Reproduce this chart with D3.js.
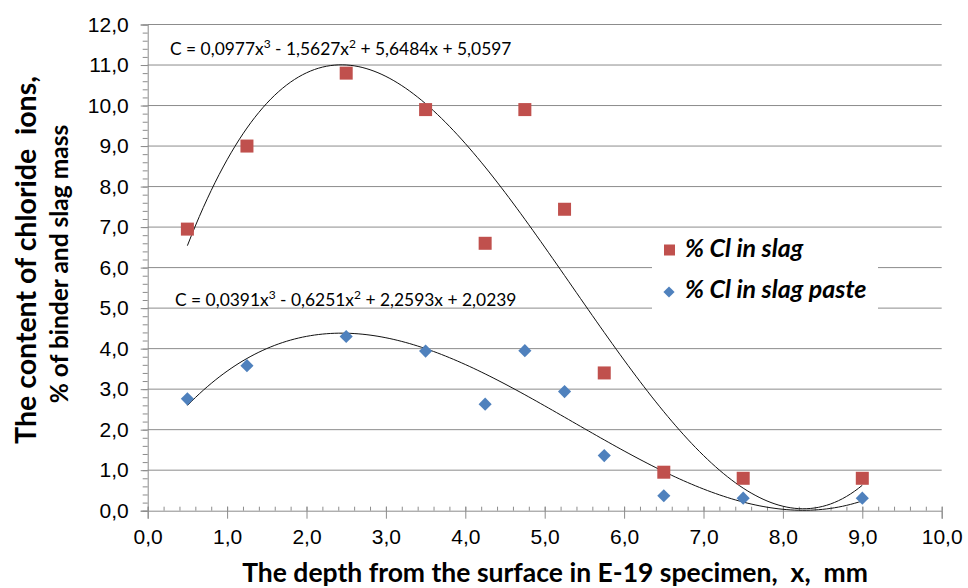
<!DOCTYPE html>
<html>
<head>
<meta charset="utf-8">
<script src="https://cdn.jsdelivr.net/npm/d3@7"></script>
<style>
  body { margin: 0; background: #fff; }
  svg { display: block; }
  text { white-space: pre; }
</style>
</head>
<body>
<div id="chart"></div>
<script>
// data
const depth = [0.5, 1.25, 2.5, 3.5, 4.25, 4.75, 5.25, 5.75, 6.5, 7.5, 9.0];
const clSlag = [6.95, 9.0, 10.8, 9.9, 6.6, 9.9, 7.44, 3.4, 0.95, 0.8, 0.8];
const clPaste = [2.76, 3.58, 4.3, 3.94, 2.63, 3.95, 2.94, 1.36, 0.37, 0.31, 0.31];
const seriesNames = ["% Cl in slag", "% Cl in slag paste"];
// equation labels as printed on the chart: [text, superscript] pieces
const slagEq = [["C = 0,0977x", "3"], [" - 1,5627x", "2"], [" + 5,6484x + 5,0597", ""]];
const pasteEq = [["C = 0,0391x", "3"], [" - 0,6251x", "2"], [" + 2,2593x + 2,0239", ""]];
const xTicks = d3.range(0, 11, 1);
const yTicks = d3.range(0, 13, 1);

const w = 968, h = 588;
const plotLeft = 147.7, plotRight = 941.7, plotTop = 24.5, plotBottom = 510.7;
const red = "#C0504D", blue = "#4F81BD", gridColor = "#8c8c8c";
const calibri = "Lato, 'Open Sans', sans-serif";

const comma = d3.formatLocale({decimal: ",", thousands: " ", grouping: [3], currency: ["", ""]}).format(".1f");

const svg = d3.select("#chart").append("svg")
    .attr("width", w)
    .attr("height", h);

const x = d3.scaleLinear().domain([0, 10]).range([plotLeft, plotRight]);
const y = d3.scaleLinear().domain([0, 12]).range([plotBottom, plotTop]);

// horizontal grid
svg.append("g")
    .selectAll("line")
    .data(yTicks.slice(1))
    .join("line")
    .attr("x1", plotLeft).attr("x2", plotRight)
    .attr("y1", d => y(d)).attr("y2", d => y(d))
    .attr("stroke", gridColor)
    .attr("stroke-width", 1);

// y axis with minor ticks
const yMinor = svg.append("g").attr("transform", `translate(${plotLeft},0)`)
    .call(d3.axisLeft(y).ticks(60).tickSize(5).tickFormat(""));
yMinor.select(".domain").remove();
yMinor.selectAll("line").attr("stroke", gridColor);

const yAxis = svg.append("g").attr("transform", `translate(${plotLeft},0)`)
    .call(d3.axisLeft(y).tickValues(yTicks).tickSize(7).tickPadding(12).tickFormat(comma));
yAxis.select(".domain").attr("stroke", gridColor);
yAxis.selectAll("line").attr("stroke", gridColor);
yAxis.selectAll("text")
    .attr("font-family", "'Liberation Sans', Arial, sans-serif")
    .attr("font-size", 21)
    .attr("fill", "#000");

// x axis: minor ticks point up, major ticks cross
const xMinor = svg.append("g").attr("transform", `translate(0,${plotBottom})`)
    .call(d3.axisTop(x).ticks(50).tickSize(4).tickFormat(""));
xMinor.select(".domain").remove();
xMinor.selectAll("line").attr("stroke", gridColor);

const xAxis = svg.append("g").attr("transform", `translate(0,${plotBottom})`)
    .call(d3.axisBottom(x).tickValues(xTicks).tickSize(8).tickPadding(10).tickFormat(comma));
xAxis.select(".domain").attr("stroke", gridColor);
xAxis.selectAll(".tick line").attr("y1", -4).attr("stroke", gridColor);
xAxis.selectAll("text")
    .attr("font-family", "'Liberation Sans', Arial, sans-serif")
    .attr("font-size", 21)
    .attr("fill", "#000");

// polynomial (order 3) trendline: least squares fit of the plotted points
function cubicFit(xs, ys) {
  const n = 4;
  const A = [], b = [];
  for (let i = 0; i < n; i++) {
    A.push([]);
    b.push(d3.sum(xs, (v, k) => ys[k] * Math.pow(v, i)));
    for (let j = 0; j < n; j++) {
      A[i].push(d3.sum(xs, v => Math.pow(v, i + j)));
    }
  }
  for (let i = 0; i < n; i++) {
    for (let k = i + 1; k < n; k++) {
      const f = A[k][i] / A[i][i];
      for (let j = i; j < n; j++) A[k][j] -= f * A[i][j];
      b[k] -= f * b[i];
    }
  }
  const c = new Array(n).fill(0);
  for (let i = n - 1; i >= 0; i--) {
    let s = b[i];
    for (let j = i + 1; j < n; j++) s -= A[i][j] * c[j];
    c[i] = s / A[i][i];
  }
  return c;
}
const poly = c => v => c[0] + c[1] * v + c[2] * v * v + c[3] * v * v * v;

const line = d3.line().x(d => x(d[0])).y(d => y(d[1]));
const xs = d3.range(depth[0], d3.max(depth) + 0.0001, 0.05);

[clSlag, clPaste].forEach(vals => {
  const f = poly(cubicFit(depth, vals));
  svg.append("path")
      .attr("d", line(xs.map(v => [v, f(v)])))
      .attr("fill", "none")
      .attr("stroke", "#111")
      .attr("stroke-width", 1);
});

// markers
svg.append("g").selectAll("rect")
    .data(depth)
    .join("rect")
    .attr("x", d => x(d) - 6.5)
    .attr("y", (d, i) => y(clSlag[i]) - 6.5)
    .attr("width", 13).attr("height", 13)
    .attr("fill", red);

const diamond = d3.symbol().type(d3.symbolDiamond2).size(110);
svg.append("g").selectAll("path")
    .data(depth)
    .join("path")
    .attr("d", diamond)
    .attr("transform", (d, i) => `translate(${x(d)},${y(clPaste[i])})`)
    .attr("fill", blue);

// equations
function equation(parts, ex, ey) {
  const t = svg.append("text")
      .attr("x", ex).attr("y", ey)
      .attr("font-family", calibri).attr("font-size", 17.4)
      .attr("fill", "#000");
  let raised = false;
  parts.forEach(([txt, sup]) => {
    t.append("tspan").attr("dy", raised ? 7 : 0).text(txt);
    raised = false;
    if (sup) {
      t.append("tspan").attr("dy", -7).attr("font-size", 12).text(sup);
      raised = true;
    }
  });
}
equation(slagEq, 170, 55);
equation(pasteEq, 175, 306);

// legend
const legend = svg.append("g");
legend.append("rect")
    .attr("x", 652).attr("y", 231).attr("width", 226).attr("height", 81)
    .attr("fill", "#fff");
legend.append("rect")
    .attr("x", 664).attr("y", 244.5).attr("width", 11).attr("height", 11)
    .attr("fill", red);
legend.append("path")
    .attr("d", d3.symbol().type(d3.symbolDiamond2).size(80))
    .attr("transform", "translate(669,292)")
    .attr("fill", blue);
legend.selectAll("text.lg")
    .data(seriesNames)
    .join("text")
    .attr("class", "lg")
    .attr("x", 685)
    .attr("y", (d, i) => i ? 298 : 257)
    .attr("font-family", calibri)
    .attr("font-size", 25)
    .attr("font-weight", "bold")
    .attr("font-style", "italic")
    .text(d => d);

// axis titles
svg.append("text")
    .attr("x", 555).attr("y", 582)
    .attr("text-anchor", "middle")
    .attr("font-family", calibri).attr("font-size", 26.5).attr("font-weight", "bold")
    .text("The depth from the surface in E-19 specimen,  x,  mm");

const yTitle = svg.append("g").attr("transform", "translate(0,260) rotate(-90)");
yTitle.append("text")
    .attr("x", 0).attr("y", 36)
    .attr("text-anchor", "middle")
    .attr("font-family", calibri).attr("font-size", 28.5).attr("font-weight", "bold")
    .text("The content of chloride  ions,");
yTitle.append("text")
    .attr("x", -4).attr("y", 68)
    .attr("text-anchor", "middle")
    .attr("font-family", calibri).attr("font-size", 24.5).attr("font-weight", "bold")
    .text("% of binder and slag mass");
</script>
</body>
</html>
